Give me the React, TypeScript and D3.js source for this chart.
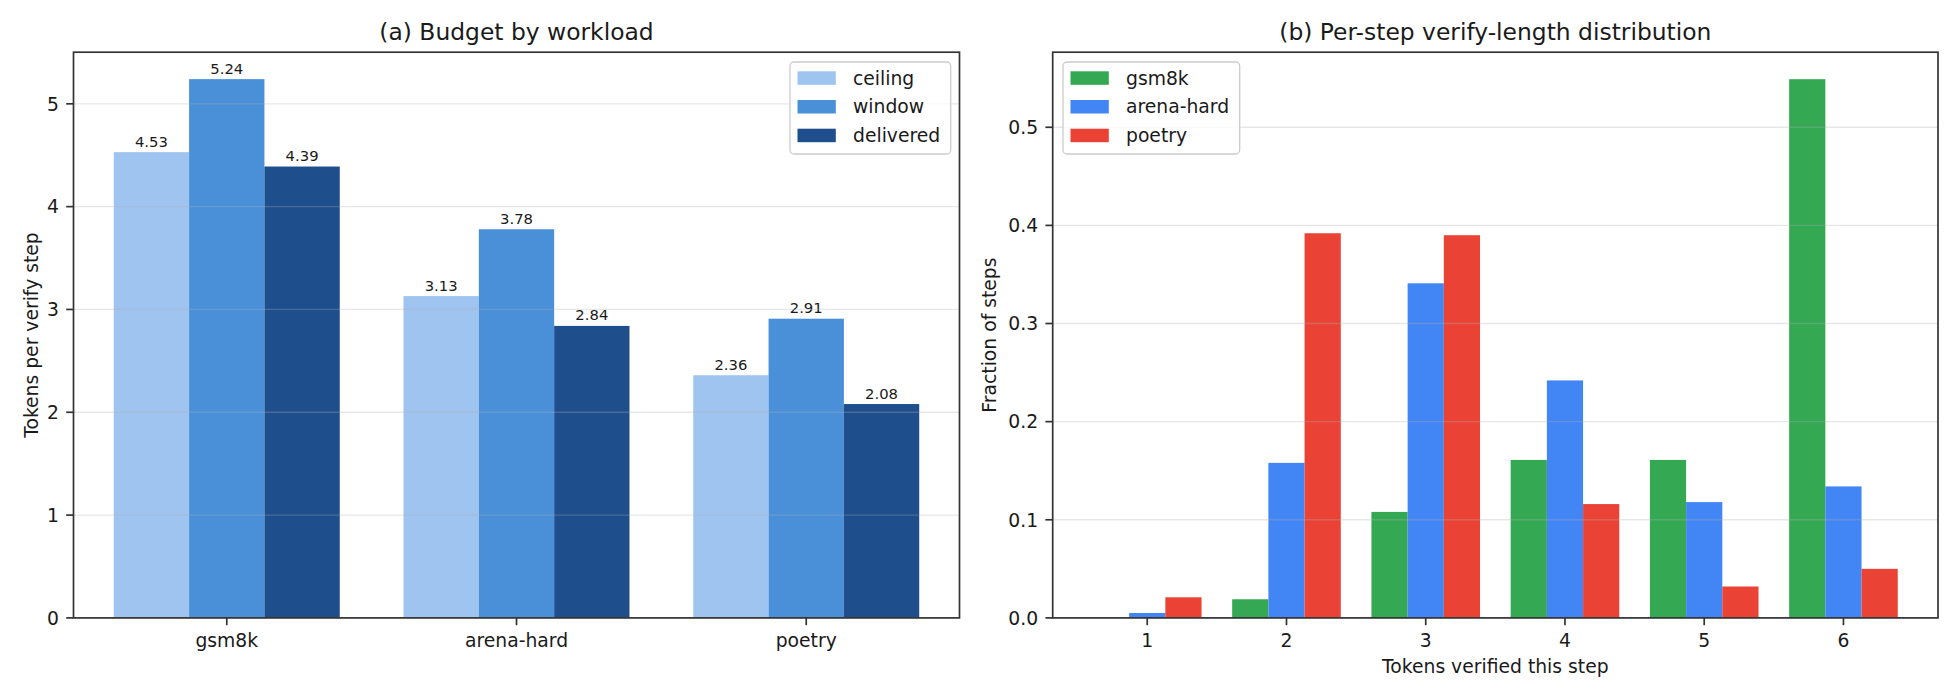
import React from "react";
import * as d3 from "d3";

const workloads = ["gsm8k", "arena-hard", "poetry"];
const budgetSeries = ["ceiling", "window", "delivered"];
const ceilingVals = [4.53, 3.13, 2.36];
const windowVals = [5.24, 3.78, 2.91];
const deliveredVals = [4.39, 2.84, 2.08];
const budgetColors = ["#9fc4ef", "#4a90d9", "#1f4e8c"];
const budgetTicks = [0, 1, 2, 3, 4, 5];

const steps = [1, 2, 3, 4, 5, 6];
const distSeries = ["gsm8k", "arena-hard", "poetry"];
const gsmDist = [0.0, 0.019, 0.108, 0.161, 0.161, 0.549];
const arenaDist = [0.005, 0.158, 0.341, 0.242, 0.118, 0.134];
const poetryDist = [0.021, 0.392, 0.39, 0.116, 0.032, 0.05];
const distColors = ["#34a853", "#4285f4", "#ea4335"];
const distTicks = [0, 0.1, 0.2, 0.3, 0.4, 0.5];

const FONT = "DejaVu Sans, sans-serif";
const TEXT = "#1a1a1a";
const SPINE = "#333333";
const W = 0.26;
const TICK_FS = 18.75;

function Legend({ x, y, w, labels, colors }: any) {
  const rowH = 28.7;
  return (
    <g>
      <rect x={x} y={y} width={w} height={92} rx={4} fill="white" fillOpacity={0.8} stroke="#cccccc" strokeWidth={1.3} />
      {labels.map((l: string, i: number) => (
        <g key={l}>
          <rect x={x + 7.5} y={y + 9.3 + i * rowH} width={38.3} height={13.5} fill={colors[i]} />
          <text x={x + 63} y={y + 16 + i * rowH + 6.6} fontSize={TICK_FS} fill={TEXT} fontFamily={FONT}>{l}</text>
        </g>
      ))}
    </g>
  );
}

function Panel({ left, right, top, bottom, xDomain, yMax, cats, tickLabels, yTicks, yFmt, seriesVals, colors, title, ylabel, ylabelX, xlabel, barLabels, legend }: any) {
  const x = d3.scaleLinear().domain(xDomain).range([left, right]);
  const y = d3.scaleLinear().domain([0, yMax]).range([bottom, top]);
  const grid = yTicks.map((t: number) => (
    <line key={"g" + t} x1={left} x2={right} y1={y(t)} y2={y(t)} stroke="#b0b0b0" strokeOpacity={0.3} strokeWidth={1.3} />
  ));
  return (
    <g fontFamily={FONT}>
      {seriesVals.map((vals: number[], si: number) =>
        vals.map((v: number, ci: number) => {
          const cx = cats[ci] + (si - 1) * W;
          const x0 = x(cx - W / 2);
          const x1 = x(cx + W / 2);
          return (
            <g key={si + "-" + ci}>
              <rect x={x0} y={y(v)} width={x1 - x0} height={y(0) - y(v)} fill={colors[si]} />
              {barLabels && (
                <text x={(x0 + x1) / 2} y={y(v) - 5.5} textAnchor="middle" fontSize={14.8} fill={TEXT}>{v.toFixed(2)}</text>
              )}
            </g>
          );
        })
      )}
      {grid}
      <rect x={left} y={top} width={right - left} height={bottom - top} fill="none" stroke={SPINE} strokeWidth={1.7} />
      {yTicks.map((t: number) => (
        <g key={"yt" + t}>
          <line x1={left - 7.3} x2={left} y1={y(t)} y2={y(t)} stroke={SPINE} strokeWidth={1.7} />
          <text x={left - 14.5} y={y(t) + 6.8} textAnchor="end" fontSize={TICK_FS} fill={TEXT}>{yFmt(t)}</text>
        </g>
      ))}
      {cats.map((c: number, i: number) => (
        <g key={"xt" + i}>
          <line x1={x(c)} x2={x(c)} y1={bottom} y2={bottom + 7.3} stroke={SPINE} strokeWidth={1.7} />
          <text x={x(c)} y={bottom + 29} textAnchor="middle" fontSize={TICK_FS} fill={TEXT}>{tickLabels[i]}</text>
        </g>
      ))}
      <text x={(left + right) / 2} y={top - 12.5} textAnchor="middle" fontSize={23.4} fill={TEXT}>{title}</text>
      <text transform={`translate(${ylabelX},${(top + bottom) / 2}) rotate(-90)`} textAnchor="middle" fontSize={TICK_FS} fill={TEXT}>{ylabel}</text>
      {xlabel && (
        <text x={(left + right) / 2} y={bottom + 55.5} textAnchor="middle" fontSize={TICK_FS} fill={TEXT}>{xlabel}</text>
      )}
      {legend}
    </g>
  );
}

export default function App() {
  const top = 52.2;
  const bottom = 617.9;
  const wlIdx = workloads.map((_, i) => i);
  return (
    <svg width={1960} height={700} style={{ position: "absolute", left: 0, top: 0, background: "white" }}>
      <rect width={1960} height={700} fill="white" />
      <Panel
        left={73.5}
        right={959.5}
        top={top}
        bottom={bottom}
        xDomain={[-0.529, 2.529]}
        yMax={5.502}
        cats={wlIdx}
        tickLabels={workloads}
        yTicks={budgetTicks}
        yFmt={(t: number) => String(t)}
        seriesVals={[ceilingVals, windowVals, deliveredVals]}
        colors={budgetColors}
        title="(a) Budget by workload"
        ylabel="Tokens per verify step"
        ylabelX={37.5}
        barLabels={true}
        legend={<Legend x={790} y={62} w={160.7} labels={budgetSeries} colors={budgetColors} />}
      />
      <Panel
        left={1052.7}
        right={1938}
        top={top}
        bottom={bottom}
        xDomain={[0.321, 6.679]}
        yMax={0.5765}
        cats={steps}
        tickLabels={steps.map(String)}
        yTicks={distTicks}
        yFmt={(t: number) => t.toFixed(1)}
        seriesVals={[gsmDist, arenaDist, poetryDist]}
        colors={distColors}
        title="(b) Per-step verify-length distribution"
        ylabel="Fraction of steps"
        ylabelX={995.5}
        xlabel="Tokens verified this step"
        barLabels={false}
        legend={<Legend x={1063} y={62} w={176.7} labels={distSeries} colors={distColors} />}
      />
    </svg>
  );
}
